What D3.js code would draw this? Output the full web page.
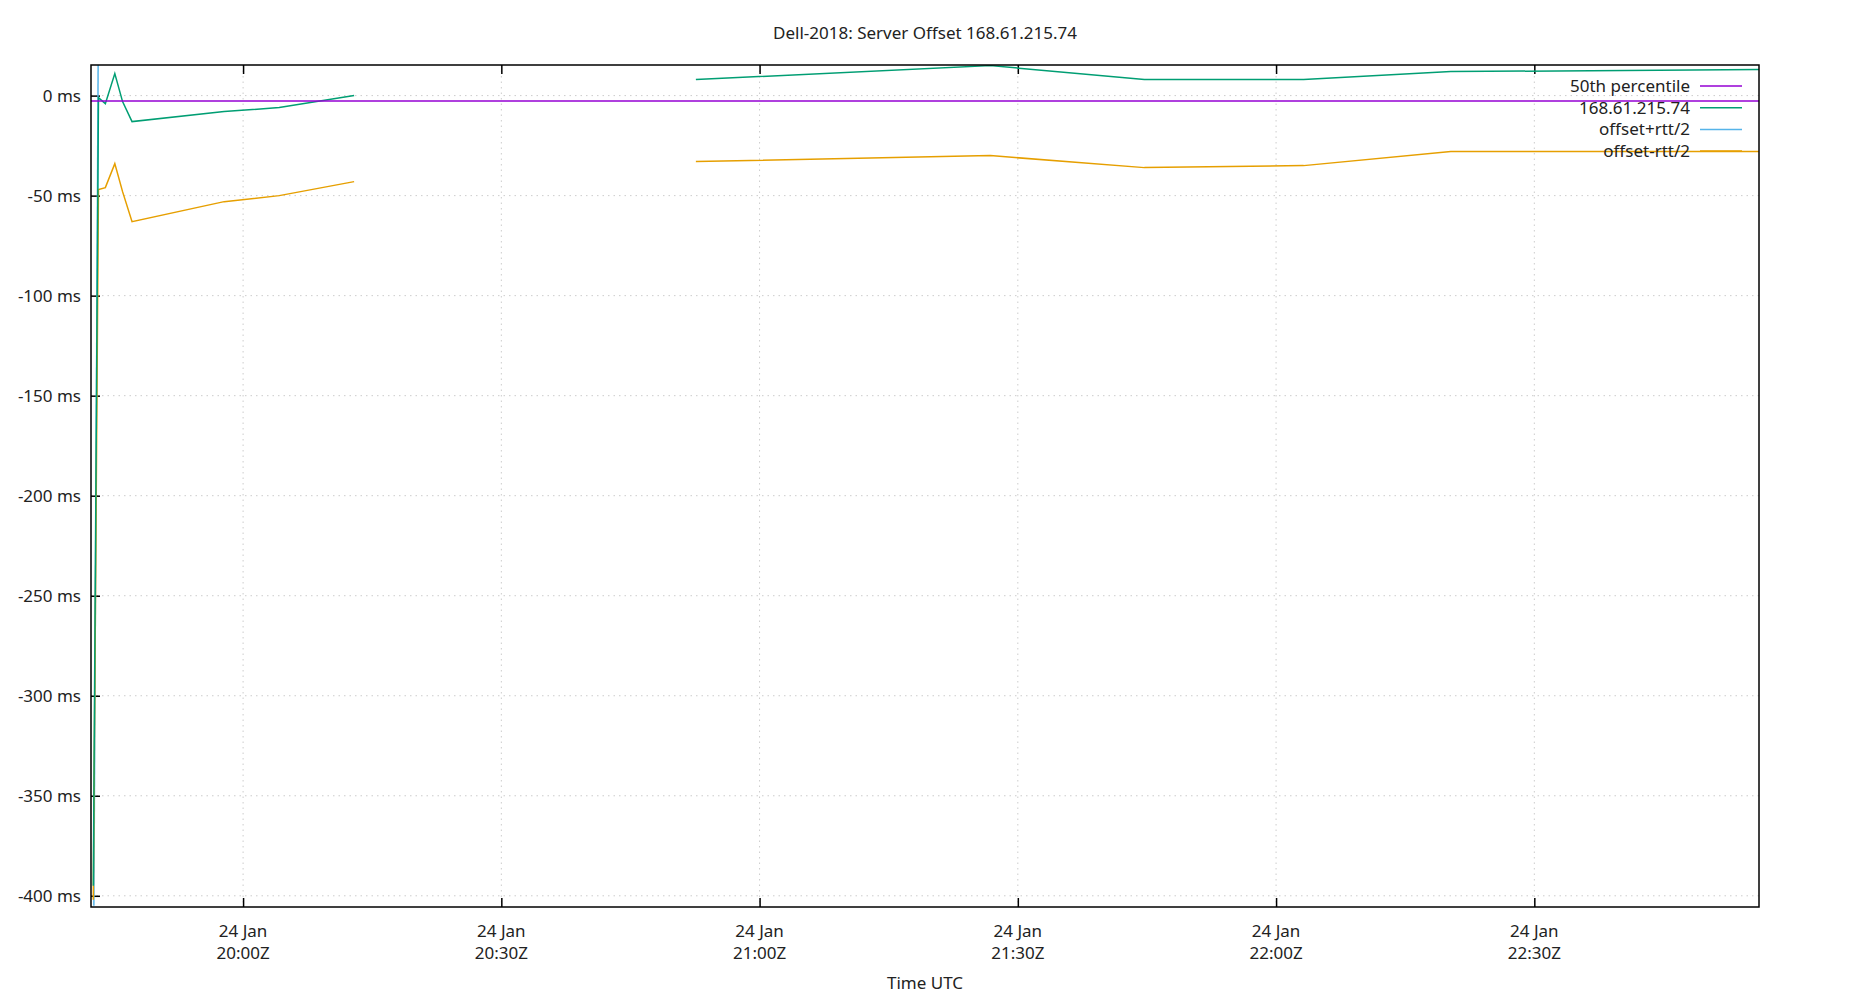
<!DOCTYPE html>
<html>
<head>
<meta charset="UTF-8">
<script src="https://d3js.org/d3.v7.min.js"></script>
<style>
  body { margin: 0; background: #fff; }
  text { font-family: "Noto Sans", sans-serif; fill: #222; }
</style>
</head>
<body>
<script>
// sample times (null = gap in data)
var times = ["19:42:36","19:43:12","19:44:00","19:45:06","19:46:00","19:47:06","19:57:48","20:04:12","20:12:54",
             null,
             "20:52:36","21:26:48","21:44:42","22:03:12","22:20:18","22:56:10"];
var offsetVals = [-395, -1, -4, 11, -3, -13, -8, -6, 0, null, 8, 15, 8, 8, 12, 13];
var minusVals  = [-402, -47, -46, -34, -48, -63, -53, -50, -43, null, -33, -30, -36, -35, -28, -28];
var plusTimes = ["19:42:40","19:43:10"];
var plusVals  = [-405, 20];
var median = -2.7;
var yTicks = [0, -50, -100, -150, -200, -250, -300, -350, -400];
var xTicks = ["20:00","20:30","21:00","21:30","22:00","22:30"];
var legendNames = ["50th percentile", "168.61.215.74", "offset+rtt/2", "offset-rtt/2"];
var colors = ["#9400d3", "#009e73", "#56b4e9", "#e69f00"];

var W = 1850, H = 1000;
var m = {left: 91, top: 65, right: 1759, bottom: 907};
function tp(s) { return new Date("2018-01-24T" + s + "Z"); }

var x = d3.scaleUtc().domain([tp("19:42:20"), tp("22:56:06")]).range([m.left, m.right]);
var y = d3.scaleLinear().domain([-405.6, 15.3]).range([m.bottom, m.top]);

var svg = d3.select("body").append("svg").attr("width", W).attr("height", H);

svg.append("defs").append("clipPath").attr("id", "clip")
  .append("rect").attr("x", m.left).attr("y", m.top)
  .attr("width", m.right - m.left).attr("height", m.bottom - m.top);

// grid
var grid = svg.append("g").attr("stroke", "#ccc").attr("stroke-dasharray", "1.5,4").attr("stroke-width", 1);
yTicks.forEach(function(v) {
  grid.append("line").attr("x1", m.left).attr("x2", m.right).attr("y1", y(v)).attr("y2", y(v));
});
xTicks.forEach(function(t) {
  grid.append("line").attr("x1", x(tp(t))).attr("x2", x(tp(t))).attr("y1", m.top).attr("y2", m.bottom);
});

// axes with gnuplot-like inward ticks
var yAxis = d3.axisLeft(y).tickValues(yTicks).tickSize(-9).tickPadding(10).tickFormat(function(d) { return d + " ms"; });
var gy = svg.append("g").attr("transform", "translate(" + m.left + ",0)").call(yAxis);
gy.select(".domain").remove();
gy.selectAll("text").attr("font-size", 17).attr("font-family", "Noto Sans").attr("fill", "#222");

var xAxis = d3.axisBottom(x).tickValues(xTicks.map(tp)).tickSize(-9).tickFormat("");
var gx = svg.append("g").attr("transform", "translate(0," + m.bottom + ")").call(xAxis);
gx.select(".domain").remove();
var gxt = svg.append("g").attr("transform", "translate(0," + m.top + ")")
  .call(d3.axisTop(x).tickValues(xTicks.map(tp)).tickSize(-9).tickFormat(""));
gxt.select(".domain").remove();
svg.selectAll(".tick line").attr("stroke", "#000").attr("stroke-width", 1.5);

xTicks.forEach(function(t) {
  var tx = svg.append("text").attr("x", x(tp(t))).attr("text-anchor", "middle").attr("font-size", 17);
  tx.append("tspan").attr("x", x(tp(t))).attr("y", 937).text("24 Jan");
  tx.append("tspan").attr("x", x(tp(t))).attr("y", 959).text(t + "Z");
});

// series
var plot = svg.append("g").attr("clip-path", "url(#clip)");
var line = d3.line().defined(function(d) { return d[1] !== null; })
  .x(function(d) { return x(d[0]); }).y(function(d) { return y(d[1]); });
function pairs(ts, vs) { return ts.map(function(t, i) { return [t ? tp(t) : null, vs[i]]; }); }

plot.append("path").datum(pairs(plusTimes, plusVals)).attr("d", line)
  .attr("fill", "none").attr("stroke", colors[2]).attr("stroke-width", 1.5);
plot.append("path").datum(pairs(times, minusVals)).attr("d", line)
  .attr("fill", "none").attr("stroke", colors[3]).attr("stroke-width", 1.5);
plot.append("path").datum(pairs(times, offsetVals)).attr("d", line)
  .attr("fill", "none").attr("stroke", colors[1]).attr("stroke-width", 1.5);
plot.append("line").attr("x1", m.left).attr("x2", m.right).attr("y1", y(median)).attr("y2", y(median))
  .attr("stroke", colors[0]).attr("stroke-width", 1.5);

// border
svg.append("rect").attr("x", m.left).attr("y", m.top).attr("width", m.right - m.left).attr("height", m.bottom - m.top)
  .attr("fill", "none").attr("stroke", "#000").attr("stroke-width", 1.5);

// legend
legendNames.forEach(function(n, i) {
  var ly = 86 + i * 21.7;
  svg.append("text").attr("x", 1690).attr("y", ly).attr("dy", "0.35em").attr("text-anchor", "end")
    .attr("font-size", 17).text(n);
  svg.append("line").attr("x1", 1700).attr("x2", 1742).attr("y1", ly).attr("y2", ly)
    .attr("stroke", colors[i]).attr("stroke-width", 1.5);
});

// titles
svg.append("text").attr("x", (m.left + m.right) / 2).attr("y", 39).attr("text-anchor", "middle")
  .attr("font-size", 17).text("Dell-2018: Server Offset 168.61.215.74");
svg.append("text").attr("x", (m.left + m.right) / 2).attr("y", 989).attr("text-anchor", "middle")
  .attr("font-size", 17).text("Time UTC");
</script>
</body>
</html>
